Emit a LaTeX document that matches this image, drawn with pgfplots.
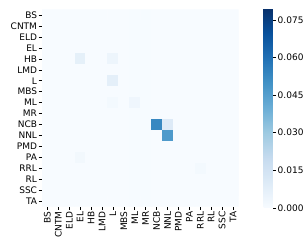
\documentclass[border=0pt]{standalone}
\usepackage{fontspec}
\setmainfont{DejaVu Sans}
\usepackage{pgfplots}
\pgfplotsset{compat=1.18}
\begin{document}
\begin{tikzpicture}
\useasboundingbox (0,0) rectangle (304pt,249pt);
\begin{axis}[
  at={(42pt,239.3pt)}, anchor=north west,
  scale only axis, width=196.5pt, height=196.8pt,
  xmin=-0.5, xmax=17.5, ymin=-0.5, ymax=17.5, y dir=reverse,
  axis line style={draw=none},
  xtick={0,...,17}, ytick={0,...,17},
  xticklabels={BS,CNTM,ELD,EL,HB,LMD,L,MBS,ML,MR,NCB,NNL,PMD,PA,RRL,RL,SSC,TA},
  yticklabels={BS,CNTM,ELD,EL,HB,LMD,L,MBS,ML,MR,NCB,NNL,PMD,PA,RRL,RL,SSC,TA},
  tick pos=left, tick align=outside, major tick length=3.3pt,
  tick style={black, line width=0.6pt},
  xticklabel style={rotate=90, anchor=east, font=\fontsize{9}{10}\selectfont, inner sep=1.5pt},
  yticklabel style={font=\fontsize{9}{10}\selectfont, inner sep=1.5pt},
  colormap={blues}{rgb255=(247,251,255) rgb255=(222,235,247) rgb255=(198,219,239) rgb255=(158,202,225) rgb255=(107,174,214) rgb255=(66,146,198) rgb255=(33,113,181) rgb255=(8,81,156) rgb255=(8,48,107)},
  point meta min=0, point meta max=0.0797,
  colorbar,
  colorbar style={
    at={(parent axis.north east)}, anchor=north west, xshift=16.7pt, yshift=1.4pt,
    scale only axis, width=9pt, height=199.5pt,
    axis line style={draw=none},
    ytick={0,0.015,0.03,0.045,0.06,0.075},
    scaled y ticks=false,
    ytick pos=right, yticklabel pos=right,
    tick align=outside, major tick length=3.3pt,
    tick style={black, line width=0.6pt},
    yticklabel style={/pgf/number format/.cd, fixed, fixed zerofill, precision=3, assume math mode=true, /tikz/.cd, font=\fontsize{9}{10}\selectfont, inner sep=1.5pt},
  },
]
\addplot[matrix plot*, mesh/cols=18, point meta=explicit] table[row sep=\\, meta=c] {
x y c\\
0 0 0\\ 1 0 0\\ 2 0 0\\ 3 0 0\\ 4 0 0\\ 5 0 0\\ 6 0 0\\ 7 0 0\\ 8 0 0.0003\\ 9 0 0.0003\\ 10 0 0\\ 11 0 0\\ 12 0 0\\ 13 0 0\\ 14 0 0\\ 15 0 0\\ 16 0 0\\ 17 0 0\\
0 1 0\\ 1 1 0\\ 2 1 0\\ 3 1 0\\ 4 1 0\\ 5 1 0\\ 6 1 0\\ 7 1 0\\ 8 1 0.0003\\ 9 1 0.0003\\ 10 1 0\\ 11 1 0\\ 12 1 0\\ 13 1 0\\ 14 1 0\\ 15 1 0\\ 16 1 0\\ 17 1 0\\
0 2 0\\ 1 2 0\\ 2 2 0\\ 3 2 0\\ 4 2 0\\ 5 2 0\\ 6 2 0\\ 7 2 0\\ 8 2 0.0003\\ 9 2 0.0003\\ 10 2 0\\ 11 2 0\\ 12 2 0\\ 13 2 0\\ 14 2 0\\ 15 2 0\\ 16 2 0\\ 17 2 0\\
0 3 0\\ 1 3 0\\ 2 3 0\\ 3 3 0\\ 4 3 0\\ 5 3 0\\ 6 3 0\\ 7 3 0\\ 8 3 0.0003\\ 9 3 0.0003\\ 10 3 0\\ 11 3 0\\ 12 3 0\\ 13 3 0\\ 14 3 0\\ 15 3 0\\ 16 3 0\\ 17 3 0\\
0 4 0\\ 1 4 0\\ 2 4 0\\ 3 4 0.007\\ 4 4 0\\ 5 4 0\\ 6 4 0.004\\ 7 4 0\\ 8 4 0.0003\\ 9 4 0.0003\\ 10 4 0\\ 11 4 0\\ 12 4 0\\ 13 4 0\\ 14 4 0\\ 15 4 0\\ 16 4 0\\ 17 4 0\\
0 5 0\\ 1 5 0\\ 2 5 0\\ 3 5 0\\ 4 5 0\\ 5 5 0\\ 6 5 0\\ 7 5 0\\ 8 5 0.0003\\ 9 5 0.0003\\ 10 5 0\\ 11 5 0\\ 12 5 0\\ 13 5 0\\ 14 5 0\\ 15 5 0\\ 16 5 0\\ 17 5 0\\
0 6 0\\ 1 6 0\\ 2 6 0\\ 3 6 0\\ 4 6 0\\ 5 6 0\\ 6 6 0.0075\\ 7 6 0\\ 8 6 0.0003\\ 9 6 0.0003\\ 10 6 0\\ 11 6 0\\ 12 6 0\\ 13 6 0\\ 14 6 0\\ 15 6 0\\ 16 6 0\\ 17 6 0\\
0 7 0\\ 1 7 0\\ 2 7 0\\ 3 7 0\\ 4 7 0\\ 5 7 0\\ 6 7 0\\ 7 7 0\\ 8 7 0.0003\\ 9 7 0.0003\\ 10 7 0\\ 11 7 0\\ 12 7 0\\ 13 7 0\\ 14 7 0\\ 15 7 0\\ 16 7 0\\ 17 7 0\\
0 8 0\\ 1 8 0\\ 2 8 0\\ 3 8 0\\ 4 8 0\\ 5 8 0\\ 6 8 0.0015\\ 7 8 0\\ 8 8 0.003\\ 9 8 0.0003\\ 10 8 0\\ 11 8 0\\ 12 8 0\\ 13 8 0\\ 14 8 0\\ 15 8 0\\ 16 8 0\\ 17 8 0\\
0 9 0\\ 1 9 0\\ 2 9 0\\ 3 9 0\\ 4 9 0\\ 5 9 0\\ 6 9 0\\ 7 9 0\\ 8 9 0.0003\\ 9 9 0.0003\\ 10 9 0\\ 11 9 0\\ 12 9 0\\ 13 9 0\\ 14 9 0\\ 15 9 0\\ 16 9 0\\ 17 9 0\\
0 10 0\\ 1 10 0\\ 2 10 0\\ 3 10 0\\ 4 10 0\\ 5 10 0\\ 6 10 0\\ 7 10 0\\ 8 10 0.0003\\ 9 10 0.0003\\ 10 10 0.053\\ 11 10 0.0105\\ 12 10 0\\ 13 10 0\\ 14 10 0\\ 15 10 0\\ 16 10 0\\ 17 10 0\\
0 11 0\\ 1 11 0\\ 2 11 0\\ 3 11 0\\ 4 11 0\\ 5 11 0\\ 6 11 0\\ 7 11 0\\ 8 11 0.0003\\ 9 11 0.0003\\ 10 11 0\\ 11 11 0.047\\ 12 11 0\\ 13 11 0\\ 14 11 0\\ 15 11 0\\ 16 11 0\\ 17 11 0\\
0 12 0\\ 1 12 0\\ 2 12 0\\ 3 12 0\\ 4 12 0\\ 5 12 0\\ 6 12 0\\ 7 12 0\\ 8 12 0.0003\\ 9 12 0.0003\\ 10 12 0\\ 11 12 0\\ 12 12 0\\ 13 12 0\\ 14 12 0\\ 15 12 0\\ 16 12 0\\ 17 12 0\\
0 13 0\\ 1 13 0\\ 2 13 0\\ 3 13 0.002\\ 4 13 0\\ 5 13 0\\ 6 13 0\\ 7 13 0\\ 8 13 0.0003\\ 9 13 0.0003\\ 10 13 0\\ 11 13 0\\ 12 13 0\\ 13 13 0\\ 14 13 0\\ 15 13 0\\ 16 13 0\\ 17 13 0\\
0 14 0\\ 1 14 0\\ 2 14 0\\ 3 14 0\\ 4 14 0\\ 5 14 0\\ 6 14 0\\ 7 14 0\\ 8 14 0.0003\\ 9 14 0.0003\\ 10 14 0\\ 11 14 0\\ 12 14 0\\ 13 14 0\\ 14 14 0.0015\\ 15 14 0\\ 16 14 0\\ 17 14 0\\
0 15 0\\ 1 15 0\\ 2 15 0\\ 3 15 0\\ 4 15 0\\ 5 15 0\\ 6 15 0\\ 7 15 0\\ 8 15 0.0003\\ 9 15 0.0003\\ 10 15 0\\ 11 15 0\\ 12 15 0\\ 13 15 0\\ 14 15 0\\ 15 15 0\\ 16 15 0\\ 17 15 0\\
0 16 0\\ 1 16 0\\ 2 16 0\\ 3 16 0\\ 4 16 0\\ 5 16 0\\ 6 16 0\\ 7 16 0\\ 8 16 0.0003\\ 9 16 0.0003\\ 10 16 0\\ 11 16 0\\ 12 16 0\\ 13 16 0\\ 14 16 0\\ 15 16 0\\ 16 16 0\\ 17 16 0\\
0 17 0\\ 1 17 0\\ 2 17 0\\ 3 17 0\\ 4 17 0\\ 5 17 0\\ 6 17 0\\ 7 17 0\\ 8 17 0.0003\\ 9 17 0.0003\\ 10 17 0\\ 11 17 0\\ 12 17 0\\ 13 17 0\\ 14 17 0\\ 15 17 0\\ 16 17 0\\ 17 17 0\\
};
\end{axis}
\end{tikzpicture}
\end{document}
